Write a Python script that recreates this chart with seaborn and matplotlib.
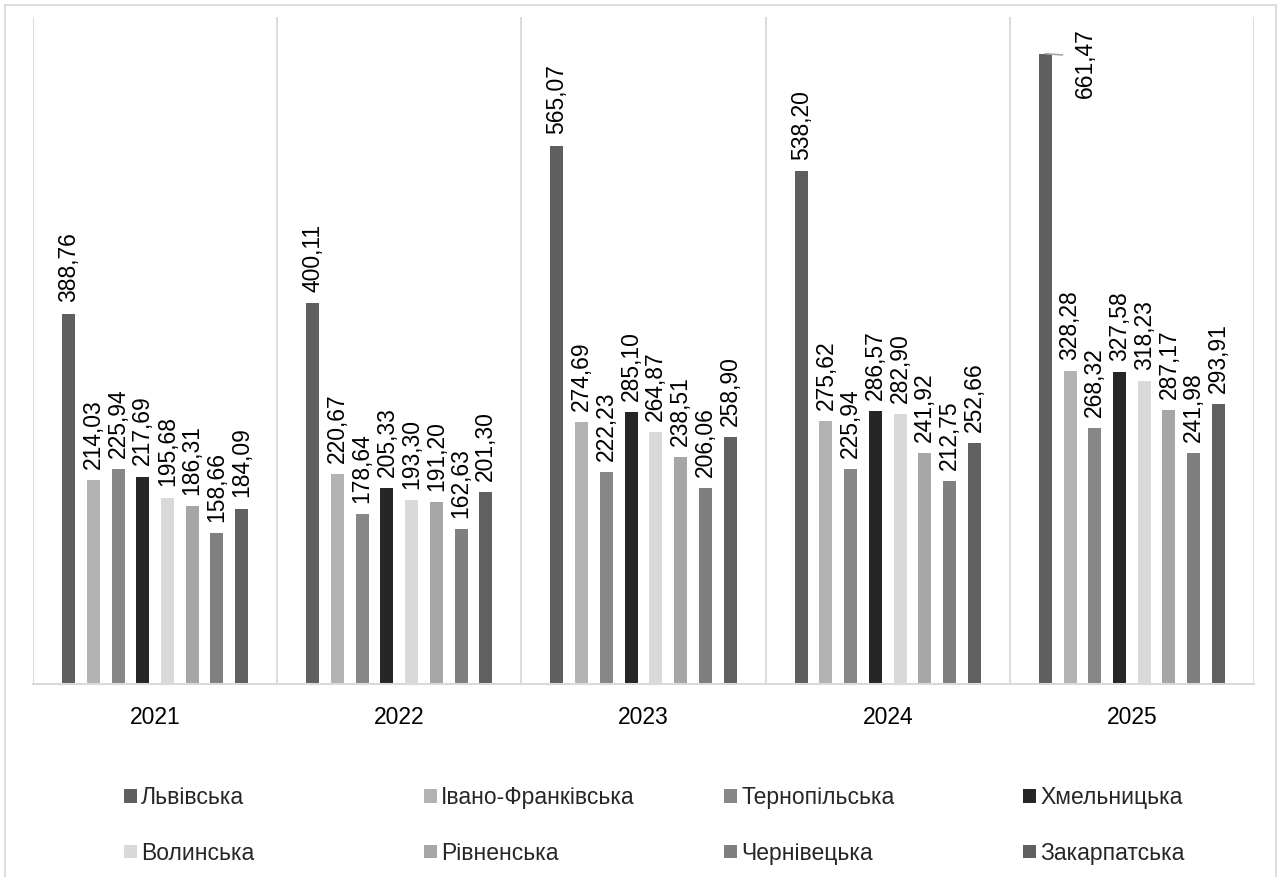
import matplotlib
matplotlib.use("Agg")
import matplotlib.pyplot as plt
import numpy as np
import pandas as pd
import seaborn as sns


# ==============================
# DATA
# ==============================
years = ["2021", "2022", "2023", "2024", "2025"]

regions = ["Львівська", "Івано-Франківська", "Тернопільська", "Хмельницька",
           "Волинська", "Рівненська", "Чернівецька", "Закарпатська"]

lviv = [388.76, 400.11, 565.07, 538.20, 661.47]
ivano_frankivsk = [214.03, 220.67, 274.69, 275.62, 328.28]
ternopil = [225.94, 178.64, 222.23, 225.94, 268.32]
khmelnytskyi = [217.69, 205.33, 285.10, 286.57, 327.58]
volyn = [195.68, 193.30, 264.87, 282.90, 318.23]
rivne = [186.31, 191.20, 238.51, 241.92, 287.17]
chernivtsi = [158.66, 162.63, 206.06, 212.75, 241.98]
zakarpattia = [184.09, 201.30, 258.90, 252.66, 293.91]

series = [lviv, ivano_frankivsk, ternopil, khmelnytskyi,
          volyn, rivne, chernivtsi, zakarpattia]

colors = ["#5f5f5f", "#b3b3b3", "#878787", "#262626",
          "#d9d9d9", "#a6a6a6", "#7f7f7f", "#606060"]

rows = []
for name, vals in zip(regions, series):
    for y, v in zip(years, vals):
        rows.append({"year": y, "region": name, "value": v})
df = pd.DataFrame(rows)


# ==============================
# STYLE
# ==============================
sns.set_theme(style="white")
plt.rcParams["font.family"] = ["Liberation Sans", "DejaVu Sans"]
FS = 16.5
GRID = "#d9d9d9"

W, H = 1282, 877
fig = plt.figure(figsize=(W / 100, H / 100), dpi=100)
ax = fig.add_axes([33 / W, 1 - 684 / H, (1254 - 33) / W, (684 - 17) / H])

sns.barplot(data=df, x="year", y="value", hue="region", hue_order=regions,
            palette=colors, saturation=1, width=0.81, gap=0.474,
            linewidth=0, ax=ax)

handles, labels = ax.get_legend_handles_labels()
ax.legend_.remove()

ax.set_ylim(0, 700)
ax.set_xlim(-0.5, 4.5)

# value labels
for ci, cont in enumerate(ax.containers):
    vals = series[ci]
    labs = []
    for v in vals:
        if v > 640:
            labs.append("")
        else:
            labs.append(f"{v:.2f}".replace(".", ","))
    ax.bar_label(cont, labels=labs, rotation=90, padding=8, fontsize=FS,
                 color="#000000")
    for bar, v in zip(cont, vals):
        if v > 640:
            # label does not fit above the bar: put it to the right with a leader line
            ax.annotate(f"{v:.2f}".replace(".", ","),
                        xy=(bar.get_x() + bar.get_width() * 0.5, v),
                        xytext=(29, -6.5), textcoords="offset points",
                        rotation=90, ha="center", va="center", fontsize=FS,
                        color="#000000",
                        arrowprops=dict(arrowstyle="-", color="#a6a6a6",
                                        lw=1.2, shrinkA=6, shrinkB=0,
                                        relpos=(0, 0.6)))

# axes look
ax.set_xlabel("")
ax.set_ylabel("")
ax.set_yticks([])
ax.set_xticks(np.arange(-0.5, 5), minor=True)
ax.grid(which="minor", axis="x", color=GRID, lw=1.3)
ax.grid(which="major", visible=False)
ax.tick_params(axis="x", which="both", length=0, pad=16, labelsize=FS,
               labelcolor="#000000")
for side in ["top", "left", "right"]:
    ax.spines[side].set_visible(False)
ax.spines["bottom"].set_color(GRID)
ax.spines["bottom"].set_linewidth(1.5)

# legend: 4 equal columns, 2 rows
col_x = [124, 424, 724, 1023]
for j, x in enumerate(col_x):
    leg = fig.legend([handles[j], handles[j + 4]], [labels[j], labels[j + 4]],
                     loc="upper left", bbox_to_anchor=(x / W, 1 - 786 / H),
                     frameon=False, fontsize=FS, borderpad=0, borderaxespad=0,
                     handlelength=0.55, handleheight=0.55, handletextpad=0.2,
                     labelspacing=1.42)

# outer chart border
fig.add_artist(plt.Rectangle((5 / W, -0.05), (W - 6) / W - 5 / W, 1.05 - 5 / H,
                             transform=fig.transFigure, fill=False,
                             ec=GRID, lw=1.3))

plt.savefig("out.png", dpi=100)
plt.close()
